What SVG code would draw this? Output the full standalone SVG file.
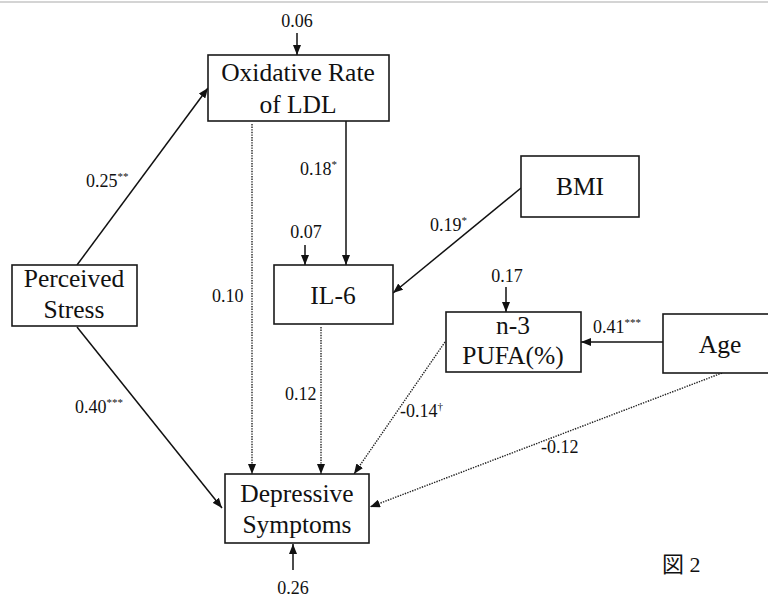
<svg xmlns="http://www.w3.org/2000/svg" width="768" height="597" viewBox="0 0 768 597">
<style>
.box{fill:#fff;stroke:#1a1a1a;stroke-width:1.6}
.nt{font-family:"Liberation Serif","Times New Roman",serif;font-size:25.5px;fill:#111;text-anchor:middle}
.lb{font-family:"Liberation Serif","Times New Roman",serif;font-size:18px;fill:#111}
.sup{font-size:11px}
.s{fill:none;stroke:#111;stroke-width:1.5}
.d{fill:none;stroke:#222;stroke-width:1.4;stroke-dasharray:1.4 1.2}
</style>
<defs>
<marker id="ah" viewBox="0 0 10 8" refX="10" refY="4" markerWidth="10" markerHeight="8" markerUnits="userSpaceOnUse" orient="auto">
<path d="M0,0 L10,4 L0,8 Z" fill="#111"/>
</marker>
</defs>
<rect width="768" height="597" fill="#fff"/>
<line x1="0" y1="2" x2="768" y2="2" stroke="#d4d4d4" stroke-width="2"/>

<g id="connectors">
<line class="s" x1="297" y1="33" x2="297" y2="55" marker-end="url(#ah)"/>
<line class="s" x1="77" y1="265" x2="208" y2="88" marker-end="url(#ah)"/>
<line class="d" x1="252" y1="124" x2="252" y2="474" marker-end="url(#ah)"/>
<line class="s" x1="346" y1="121" x2="346" y2="265" marker-end="url(#ah)"/>
<line class="s" x1="305" y1="245" x2="305" y2="265" marker-end="url(#ah)"/>
<line class="s" x1="521" y1="188" x2="393" y2="293" marker-end="url(#ah)"/>
<line class="d" x1="321" y1="327" x2="321" y2="474" marker-end="url(#ah)"/>
<line class="s" x1="506" y1="287" x2="506" y2="312" marker-end="url(#ah)"/>
<line class="s" x1="663" y1="342" x2="581" y2="342" marker-end="url(#ah)"/>
<line class="d" x1="445" y1="342" x2="354" y2="474" marker-end="url(#ah)"/>
<line class="d" x1="722" y1="373" x2="370" y2="507" marker-end="url(#ah)"/>
<line class="s" x1="77" y1="327" x2="222" y2="508" marker-end="url(#ah)"/>
<line class="s" x1="293" y1="570" x2="293" y2="544" marker-end="url(#ah)"/>
</g>

<g id="labels">
<text class="lb" x="297" y="27" text-anchor="middle">0.06</text>
<text class="lb" x="86" y="187">0.25<tspan class="sup" dy="-7">**</tspan></text>
<text class="lb" x="300" y="175">0.18<tspan class="sup" dy="-7">*</tspan></text>
<text class="lb" x="306" y="238" text-anchor="middle">0.07</text>
<text class="lb" x="212" y="302">0.10</text>
<text class="lb" x="430" y="231">0.19<tspan class="sup" dy="-7">*</tspan></text>
<text class="lb" x="507" y="282" text-anchor="middle">0.17</text>
<text class="lb" x="593" y="333">0.41<tspan class="sup" dy="-7">***</tspan></text>
<text class="lb" x="285" y="400">0.12</text>
<text class="lb" x="75" y="413">0.40<tspan class="sup" dy="-7">***</tspan></text>
<text class="lb" x="400" y="417">-0.14<tspan class="sup" dy="-7">†</tspan></text>
<text class="lb" x="541" y="453">-0.12</text>
<text class="lb" x="293" y="594" text-anchor="middle">0.26</text>
<text x="662" y="572" style="font-family:'Liberation Serif','Noto Sans CJK JP',serif;font-size:22px;fill:#111">図 2</text>
</g>

<g id="oxidative">
<rect class="box" x="208" y="55" width="181" height="66"/>
<text class="nt" x="298" y="81">Oxidative Rate</text>
<text class="nt" x="298" y="113">of LDL</text>
</g>
<g id="stress">
<rect class="box" x="12" y="265" width="125" height="61"/>
<text class="nt" x="74" y="287">Perceived</text>
<text class="nt" x="74" y="318">Stress</text>
</g>
<g id="il6">
<rect class="box" x="274" y="265" width="119" height="59"/>
<text class="nt" x="333" y="304">IL-6</text>
</g>
<g id="bmi">
<rect class="box" x="521" y="156" width="118" height="61"/>
<text class="nt" x="580" y="195">BMI</text>
</g>
<g id="pufa">
<rect class="box" x="446" y="312" width="135" height="60"/>
<text class="nt" x="513" y="334">n-3</text>
<text class="nt" x="513" y="364">PUFA(%)</text>
</g>
<g id="age">
<rect class="box" x="663" y="314" width="120" height="59"/>
<text class="nt" x="720" y="353">Age</text>
</g>
<g id="depressive">
<rect class="box" x="225" y="474" width="144" height="69"/>
<text class="nt" x="297" y="502">Depressive</text>
<text class="nt" x="297" y="533">Symptoms</text>
</g>
</svg>
